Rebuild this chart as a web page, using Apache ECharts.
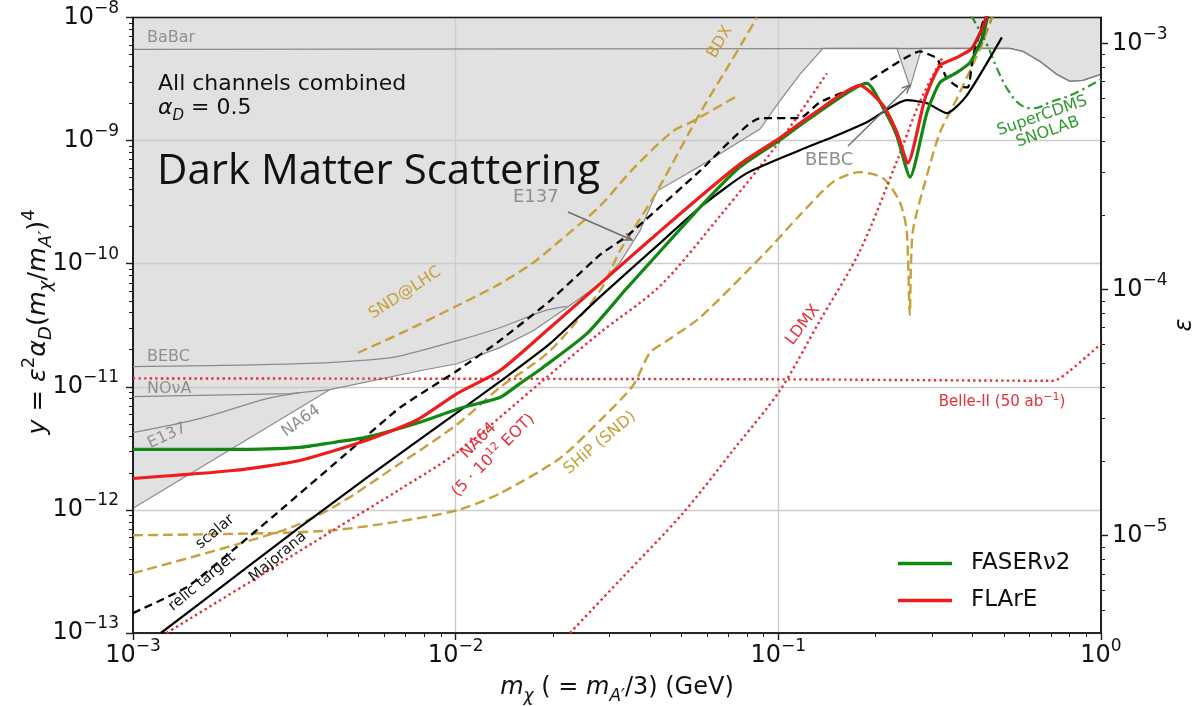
<!DOCTYPE html>
<html>
<head>
<meta charset="utf-8">
<script src="https://cdn.jsdelivr.net/npm/echarts@6/dist/echarts.min.js"></script>
<style>
  html, body { margin: 0; padding: 0; background: #ffffff; }
  #chart { width: 1204px; height: 706px; }
</style>
</head>
<body>
<div id="chart"></div>
<script>
// Dark photon mediated dark matter: sensitivity in y = eps^2 alpha_D (m_chi/m_A')^4 vs m_chi [GeV]

// ---- projected reaches ----
const faserNu2 = [
  [1.00e-3, 3.10e-12], [2.04e-3, 3.10e-12], [3.29e-3, 3.22e-12], [4.17e-3, 3.53e-12],
  [5.27e-3, 3.88e-12], [7.53e-3, 5.03e-12], [1.05e-2, 6.78e-12], [1.37e-2, 8.18e-12],
  [1.58e-2, 1.06e-11], [1.86e-2, 1.43e-11], [2.55e-2, 2.70e-11], [3.40e-2, 6.37e-11],
  [4.00e-2, 1.02e-10], [5.84e-2, 3.05e-10], [7.60e-2, 6.10e-10], [0.101, 1.01e-9],
  [0.128, 1.58e-9], [0.188, 2.92e-9], [0.214, 1.73e-9], [0.233, 1.09e-9],
  [0.256, 5.05e-10], [0.289, 1.70e-9], [0.317, 2.97e-9], [0.358, 3.58e-9],
  [0.393, 4.32e-9], [0.428, 6.76e-9], [0.446, 1.04e-8]
];
const flare = [
  [1.00e-3, 1.80e-12], [2.04e-3, 2.09e-12], [3.29e-3, 2.52e-12], [5.27e-3, 3.66e-12],
  [7.53e-3, 5.32e-12], [1.01e-2, 8.81e-12], [1.37e-2, 1.35e-11], [1.96e-2, 3.02e-11],
  [2.80e-2, 6.86e-11], [3.54e-2, 1.18e-10], [4.30e-2, 1.84e-10], [5.71e-2, 3.48e-10],
  [7.60e-2, 6.44e-10], [0.101, 1.05e-9], [0.128, 1.64e-9], [0.179, 2.81e-9],
  [0.211, 1.94e-9], [0.233, 1.17e-9], [0.252, 6.56e-10], [0.285, 2.21e-9],
  [0.317, 4.08e-9], [0.358, 4.74e-9], [0.398, 5.61e-9], [0.428, 8.14e-9], [0.443, 1.04e-8]
];
const superCdms = [
  [0.395, 1.04e-8], [0.401, 9.8e-9], [0.443, 6.04e-9], [0.476, 3.86e-9], [0.511, 2.66e-9],
  [0.561, 1.97e-9], [0.615, 1.83e-9], [0.709, 2.09e-9], [0.818, 2.38e-9], [1.0, 3.15e-9]
];
const sndLhc = [
  [4.98e-3, 1.89e-11], [6.72e-3, 2.70e-11], [1.01e-2, 4.55e-11], [1.37e-2, 6.86e-11],
  [1.74e-2, 1.02e-10], [2.10e-2, 1.53e-10], [2.80e-2, 2.94e-10], [3.54e-2, 5.86e-10],
  [4.71e-2, 1.19e-9], [5.44e-2, 1.44e-9], [7.34e-2, 2.25e-9]
];
const bdx = [
  [1.00e-3, 3.06e-13], [2.92e-3, 6.83e-13], [4.17e-3, 1.05e-12], [6.72e-3, 2.38e-12],
  [1.01e-2, 4.94e-12], [1.37e-2, 9.85e-12], [1.96e-2, 1.96e-11], [2.80e-2, 6.02e-11],
  [3.23e-2, 1.27e-10], [4.09e-2, 3.41e-10], [4.61e-2, 5.97e-10], [5.32e-2, 1.19e-9],
  [6.01e-2, 2.09e-9], [6.93e-2, 3.86e-9], [7.77e-2, 6.39e-9], [8.58e-2, 1.0e-8]
];
const shipSnd = [
  [1.00e-3, 6.22e-13], [2.58e-3, 6.46e-13], [4.17e-3, 6.83e-13], [6.72e-3, 8.09e-13],
  [1.01e-2, 9.93e-13], [1.37e-2, 1.36e-12], [2.10e-2, 2.62e-12], [2.80e-2, 5.32e-12],
  [3.54e-2, 1.02e-11], [4.00e-2, 1.89e-11], [4.52e-2, 2.37e-11], [5.71e-2, 3.64e-11],
  [9.22e-2, 1.27e-10], [0.1166, 2.48e-10], [0.1476, 4.60e-10], [0.179, 5.55e-10],
  [0.211, 4.96e-10], [0.238, 3.17e-10], [0.250, 1.84e-10], [0.2555, 3.85e-11],
  [0.261, 1.81e-10], [0.289, 5.24e-10], [0.317, 1.17e-9], [0.358, 2.21e-9],
  [0.422, 5.61e-9], [0.462, 1.04e-8]
];
const na64Projected = [
  [1.27e-3, 1.0e-13], [2.58e-3, 3.12e-13], [4.17e-3, 6.83e-13], [6.72e-3, 1.47e-12],
  [1.01e-2, 2.93e-12], [1.86e-2, 1.12e-11], [2.80e-2, 2.75e-11], [4.30e-2, 6.6e-11],
  [6.59e-2, 2.44e-10], [0.101, 9.89e-10], [0.1414, 3.52e-9]
];
const ldmx = [
  [2.26e-2, 1.0e-13], [3.23e-2, 2.69e-13], [5.06e-2, 9.39e-13], [7.23e-2, 3.04e-12],
  [0.101, 9.31e-12], [0.1345, 3.44e-11], [0.179, 1.27e-10], [0.233, 6.81e-10],
  [0.275, 2.09e-9], [0.324, 4.83e-9]
];
const belleII = [
  [1.0e-3, 1.17e-11], [0.1, 1.15e-11], [0.709, 1.12e-11], [0.80, 1.35e-11], [1.0, 2.24e-11]
];

// ---- thermal relic targets ----
const relicScalar = [
  [1.00e-3, 1.45e-13], [1.47e-3, 2.36e-13], [2.04e-3, 4.71e-13], [2.79e-3, 9.39e-13],
  [4.70e-3, 3.04e-12], [6.72e-3, 6.78e-12], [1.01e-2, 1.35e-11], [1.37e-2, 2.37e-11],
  [1.96e-2, 5.00e-11], [2.80e-2, 1.18e-10], [3.40e-2, 1.68e-10], [5.71e-2, 5.65e-10],
  [8.77e-2, 1.52e-9], [0.1166, 1.52e-9], [0.1345, 2.05e-9], [0.185, 2.92e-9],
  [0.275, 5.30e-9], [0.31, 4.65e-9], [0.333, 3.20e-9], [0.358, 2.76e-9],
  [0.387, 2.71e-9], [0.401, 4.83e-9], [0.437, 1.04e-8]
];
const relicMajorana = [
  [1.22e-3, 1.0e-13], [2.04e-3, 2.79e-13], [3.29e-3, 7.23e-13], [5.27e-3, 1.80e-12],
  [1.01e-2, 6.18e-12], [1.37e-2, 1.10e-11], [1.96e-2, 2.24e-11], [2.80e-2, 5.38e-11],
  [4.30e-2, 1.47e-10], [5.84e-2, 3.0e-10], [7.99e-2, 5.44e-10], [0.1166, 8.36e-10],
  [0.1476, 1.07e-9], [0.188, 1.41e-9], [0.250, 2.13e-9], [0.289, 2.01e-9],
  [0.333, 1.67e-9], [0.384, 2.33e-9], [0.493, 6.89e-9]
];

// ---- existing constraints ----
// lower edge of the combined excluded region (NA64, NOvA, E137, BEBC, BaBar)
const excludedEdge = [
  [1.00e-3, 1.03e-12], [4.08e-3, 9.49e-12], [7.75e-3, 1.35e-11], [1.01e-2, 1.54e-11],
  [1.37e-2, 2.08e-11], [1.74e-2, 2.85e-11], [2.21e-2, 4.38e-11], [2.80e-2, 6.86e-11],
  [3.23e-2, 1.02e-10], [3.72e-2, 1.84e-10], [4.21e-2, 3.89e-10], [5.71e-2, 6.20e-10],
  [8.77e-2, 1.24e-9], [0.101, 2.09e-9], [0.1166, 3.45e-9], [0.1375, 5.61e-9],
  [0.233, 5.61e-9], [0.256, 2.71e-9], [0.278, 5.61e-9], [0.522, 5.61e-9],
  [0.573, 5.30e-9], [0.647, 4.40e-9], [0.730, 3.45e-9], [0.801, 3.03e-9],
  [0.879, 3.09e-9], [1.0, 3.45e-9]
];
const babar = [
  [1.0e-3, 5.5e-9], [0.522, 5.61e-9], [0.573, 5.30e-9], [0.647, 4.40e-9],
  [0.730, 3.45e-9], [0.801, 3.03e-9], [0.879, 3.09e-9], [1.0, 3.45e-9]
];
const bebc = [
  [1.0e-3, 1.46e-11], [3.29e-3, 1.54e-11], [6.26e-3, 1.72e-11], [7.75e-3, 1.96e-11],
  [1.01e-2, 2.37e-11], [1.37e-2, 3.02e-11], [1.86e-2, 4.1e-11], [2.21e-2, 4.5e-11]
];
const nova = [[1.0e-3, 8.33e-12], [3.07e-3, 8.81e-12], [4.08e-3, 9.49e-12]];
const e137 = [[1.0e-3, 4.25e-12], [1.61e-3, 5.52e-12], [2.60e-3, 8.02e-12], [3.29e-3, 8.97e-12]];

// ---- axes ----
const massRange = [1e-3, 1];
const yRange = [1e-13, 1e-8];
const epsTicks = [1e-5, 1e-4, 1e-3];
const alphaD = 0.5;
const massRatio = 1 / 3;
// right axis: eps = sqrt(y / (alpha_D (m_chi/m_A')^4))
const epsRange = yRange.map(v => Math.sqrt(v / (alphaD * Math.pow(massRatio, 4))));

function minorValues(e0, e1) {
  const out = [];
  for (let e = e0; e < e1; e++) for (let k = 2; k <= 9; k++) out.push(k * Math.pow(10, e));
  return out;
}
const xMinor = minorValues(-3, 0);
const yMinor = minorValues(-13, -8);
const epsMinor = minorValues(-6, -3).filter(v => v > epsRange[0] && v < epsRange[1]);

const FONT = 'DejaVu Sans';
const INK = '#111111';
const FILLGRAY = '#e1e1e1';
const FILLVEIL = 'rgba(0,0,0,0.118)';   // same tone as FILLGRAY when laid over white
const GRAYLINE = '#8a8a8a';
const GRAYTEXT = '#8f8f8f';
const GOLD = '#c8a03a';
const RED = '#ee1c1c';
const DOTRED = '#e5303a';
const GREEN = '#118811';
const CDMS = '#2f9a2f';

function powLabel(v) {
  const e = Math.round(Math.log10(v));
  return '{b|10}{s|' + (e < 0 ? '\u2212' + (-e) : String(e)) + '}';
}
const tickRich = {
  b: { fontSize: 24, fontFamily: FONT, color: INK, lineHeight: 35 },
  s: { fontSize: 17, fontFamily: FONT, color: INK, lineHeight: 17, verticalAlign: 'top' }
};
const spine = { color: '#1a1a1a', width: 1.6 };

function logAxis(range, position, extra) {
  return Object.assign({
    type: 'log', logBase: 10, min: range[0], max: range[1], position, z: 1.5,
    axisLine: { show: false, onZero: false, lineStyle: spine },
    axisTick: { show: false },
    axisLabel: { show: false },
    splitLine: { show: false },
    splitArea: { show: false },
    minorTick: { show: false }, minorSplitLine: { show: false }
  }, extra);
}

const xAxis = [
  logAxis(massRange, 'bottom', {
    axisLine: { show: true, onZero: false, lineStyle: spine },
    axisTick: { show: true, length: 7, lineStyle: { color: '#1a1a1a', width: 1.4 } },
    axisLabel: { show: true, formatter: powLabel, rich: tickRich, margin: 5, showMinLabel: true, showMaxLabel: true },
    splitLine: { show: true, lineStyle: { color: '#cccccc', width: 1.4 } }
  }),
  logAxis(massRange, 'bottom', {
    axisTick: { show: true, length: 4, customValues: xMinor, lineStyle: { color: '#1a1a1a', width: 1 } }
  })
];
const yAxis = [
  logAxis(yRange, 'left', {
    axisLine: { show: true, onZero: false, lineStyle: spine },
    axisTick: { show: true, length: 7, lineStyle: { color: '#1a1a1a', width: 1.4 } },
    axisLabel: { show: true, formatter: powLabel, rich: tickRich, margin: 14, showMinLabel: true, showMaxLabel: true },
    splitLine: { show: true, lineStyle: { color: '#cccccc', width: 1.4 } }
  }),
  logAxis(yRange, 'left', {
    axisTick: { show: true, length: 4, customValues: yMinor, lineStyle: { color: '#1a1a1a', width: 1 } }
  }),
  logAxis(epsRange, 'right', {
    axisLine: { show: true, onZero: false, lineStyle: spine },
    axisTick: { show: true, length: 7, customValues: epsTicks, lineStyle: { color: '#1a1a1a', width: 1.4 } },
    axisLabel: { show: true, customValues: epsTicks, formatter: powLabel, rich: tickRich, margin: 11 }
  }),
  logAxis(epsRange, 'right', {
    axisTick: { show: true, length: 4, customValues: epsMinor, lineStyle: { color: '#1a1a1a', width: 1 } }
  })
];

function curve(name, data, color, width, type, extra) {
  return Object.assign({
    name, type: 'line', data, xAxisIndex: 0, yAxisIndex: 0,
    showSymbol: false, symbol: 'none', silent: true, animation: false, clip: true,
    lineStyle: { color, width, type, cap: 'butt' }, itemStyle: { color },
    emphasis: { disabled: true }
  }, extra || {});
}

const series = [
  curve('BEBC', bebc, GRAYLINE, 1.2, 'solid', { smooth: 0.3 }),
  curve('NOvA', nova, GRAYLINE, 1.2, 'solid'),
  curve('E137', e137, GRAYLINE, 1.2, 'solid', { smooth: 0.3 }),
  curve('SHiP (SND)', shipSnd, GOLD, 2.4, [10, 5], { smooth: 0.25 }),
  curve('SND@LHC', sndLhc, GOLD, 2.4, [10, 5], { smooth: 0.3 }),
  curve('BDX', bdx, GOLD, 2.4, [10, 5], { smooth: 0.3 }),
  curve('Belle-II', belleII, DOTRED, 2.4, [2.4, 3.2], { smooth: 0.3 }),
  curve('NA64 projected', na64Projected, DOTRED, 2.4, [2.4, 3.2], { smooth: 0.3 }),
  curve('LDMX', ldmx, DOTRED, 2.4, [2.4, 3.2], { smooth: 0.3 }),
  curve('SuperCDMS SNOLAB', superCdms, CDMS, 2.2, [9, 4, 2.5, 4], { smooth: 0.4 }),
  curve('scalar relic target', relicScalar, '#000000', 2.3, [8, 5], { smooth: 0.15 }),
  curve('Majorana relic target', relicMajorana, '#000000', 2.2, 'solid', { smooth: 0.2 }),
  curve('FASERν2', faserNu2, GREEN, 3.2, 'solid', { smooth: 0.2 }),
  curve('FLArE', flare, RED, 3.2, 'solid', { smooth: 0.2 })
];

// ---- annotations ----
function label(text, x, y, opt) {
  opt = opt || {};
  return {
    type: 'text', x, y, rotation: (opt.rot || 0) * Math.PI / 180, z: 50, silent: true,
    style: {
      text, fill: opt.color || INK,
      font: (opt.italic ? 'italic ' : '') + (opt.size || 16) + 'px ' + (opt.family || FONT),
      align: opt.align || 'center', verticalAlign: 'middle',
      rich: opt.rich, lineHeight: opt.lineHeight
    }
  };
}
function arrow(x1, y1, x2, y2, color) {
  const a = Math.atan2(y2 - y1, x2 - x1), L = 9, w = 0.42;
  return {
    type: 'group', z: 50, silent: true, children: [
      { type: 'line', z: 50, shape: { x1, y1, x2, y2 }, style: { stroke: color, lineWidth: 1.4 } },
      { type: 'polyline', z: 50, shape: { points: [
          [x2 - L * Math.cos(a - w), y2 - L * Math.sin(a - w)], [x2, y2],
          [x2 - L * Math.cos(a + w), y2 - L * Math.sin(a + w)]] },
        style: { stroke: color, lineWidth: 1.4, fill: 'none' } }
    ]
  };
}
function mathRich(size, fill) {
  return {
    r: { fontSize: size, fontFamily: FONT, fill, lineHeight: size + 10 },
    i: { fontSize: size, fontFamily: FONT, fontStyle: 'italic', fill, lineHeight: size + 10 },
    sup: { fontSize: Math.round(size * 0.7), fontFamily: FONT, fill, lineHeight: 14, verticalAlign: 'top' },
    sub: { fontSize: Math.round(size * 0.7), fontFamily: FONT, fontStyle: 'italic', fill, lineHeight: 14, verticalAlign: 'bottom' }
  };
}
function supRich(size, fill) {
  return {
    r: { fontSize: size, fontFamily: FONT, fill, lineHeight: size + 5 },
    s: { fontSize: Math.round(size * 0.7), fontFamily: FONT, fill, lineHeight: 11, verticalAlign: 'top' }
  };
}

const texts = [
  label('BaBar', 147, 38, { color: GRAYTEXT, size: 16, align: 'left' }),
  label('All channels combined', 158, 84, { size: 22, align: 'left' }),
  label('{i|α}{sub|D}{r| = 0.5}', 158, 108, { align: 'left', rich: mathRich(22, INK) }),
  label('Dark Matter Scattering', 157, 172, { size: 42, family: 'Open Sans', align: 'left' }),
  label('E137', 513, 197, { color: GRAYTEXT, size: 18, align: 'left' }),
  arrow(568, 212, 632, 240, '#6e6e6e'),
  label('BEBC', 805, 160, { color: GRAYTEXT, size: 18, align: 'left' }),
  arrow(848, 146, 910, 85, '#6e6e6e'),
  label('BEBC', 147, 357, { color: GRAYTEXT, size: 16, align: 'left' }),
  label('NOνA', 147, 389, { color: GRAYTEXT, size: 16, align: 'left' }),
  label('E137', 167, 436, { color: GRAYTEXT, size: 16, rot: 25 }),
  label('NA64', 301, 421, { color: GRAYTEXT, size: 16, rot: 36 }),
  label('scalar', 215, 532, { size: 15, rot: 40 }),
  label('relic target', 202, 582, { size: 15, rot: 40 }),
  label('Majorana', 278, 557, { size: 15, rot: 40 }),
  label('SND@LHC', 405, 293, { color: GOLD, size: 16, rot: 33 }),
  label('BDX', 720, 42, { color: GOLD, size: 16, rot: 60 }),
  label('{r|NA64}\n{r|(5 · 10}{s|12}{r| EOT)}', 486, 448, { rot: 45, rich: supRich(16, DOTRED) }),
  label('SHiP (SND)', 600, 443, { color: GOLD, size: 16, rot: 40 }),
  label('LDMX', 803, 325, { color: DOTRED, size: 16, rot: 53 }),
  label('{r|Belle-II (50 ab}{s|\u22121}{r|)}', 1002, 402, { rich: supRich(15, DOTRED) }),
  label('SuperCDMS\nSNOLAB', 1045, 124, { color: CDMS, size: 16, rot: 19, lineHeight: 17 }),
  // axis titles
  label('{i|m}{sub|χ}{r| ( = }{i|m}{sub|A′}{r|/3) (GeV)}', 617, 688, { rich: mathRich(24, INK) }),
  label('{i|y}{r| = }{i|ε}{sup|2}{i|α}{sub|D}{r|(}{i|m}{sub|χ}{r|/}{i|m}{sub|A′}{r|)}{sup|4}', 38, 322, {
    rot: 90, rich: mathRich(25.5, INK)
  }),
  label('ε', 1185, 325, { size: 24, italic: true, rot: 90 })
];

const chart = echarts.init(document.getElementById('chart'));
chart.setOption({
  animation: false,
  backgroundColor: '#ffffff',
  textStyle: { fontFamily: FONT },
  grid: {
    left: 133, right: 103, top: 16, bottom: 73, containLabel: false,
    show: true, z: 3, borderColor: '#1a1a1a', borderWidth: 1.6, backgroundColor: 'transparent'
  },
  xAxis, yAxis, series,
  legend: {
    data: [{ name: 'FASERν2' }, { name: 'FLArE' }],
    orient: 'vertical', left: 893, top: 546, icon: 'rect',
    itemWidth: 54, itemHeight: 3.5, itemGap: 12, selectedMode: false,
    textStyle: { fontSize: 23, fontFamily: FONT, color: INK, lineHeight: 25, padding: [0, 0, 0, 14] }
  }
});

// excluded regions, placed through the axes
const toPx = p => chart.convertToPixel({ xAxisIndex: 0, yAxisIndex: 0 }, p);
function shadeAbove(edge, z, fill) {
  const last = edge[edge.length - 1], first = edge[0];
  const pts = edge.map(toPx).concat([toPx([last[0], yRange[1]]), toPx([first[0], yRange[1]])]);
  return { type: 'polygon', z, silent: true, shape: { points: pts }, style: { fill } };
}
function outline(edge, width) {
  return { type: 'polyline', z: 1.7, silent: true, shape: { points: edge.map(toPx) },
           style: { stroke: GRAYLINE, lineWidth: width, fill: 'none' } };
}
// left part: everything above the combined edge up to where it meets BaBar
const leftEdge = excludedEdge.slice(0, 16);
// BEBC notch below the BaBar line
const bebcNotch = excludedEdge.slice(16, 19);
// BaBar band where it is the leading bound; a translucent veil so it stays gray on top
const babarLead = [[excludedEdge[15][0], babar[1][1]]].concat(babar.slice(1));
chart.setOption({
  graphic: [
    shadeAbove(leftEdge, 0, FILLGRAY),
    { type: 'polygon', z: 0, silent: true, shape: { points: bebcNotch.map(toPx) }, style: { fill: FILLGRAY } },
    outline(excludedEdge, 1.2), outline(babar, 1.3),
    shadeAbove(babarLead, 100, FILLVEIL)
  ].concat(texts)
});
</script>
</body>
</html>
